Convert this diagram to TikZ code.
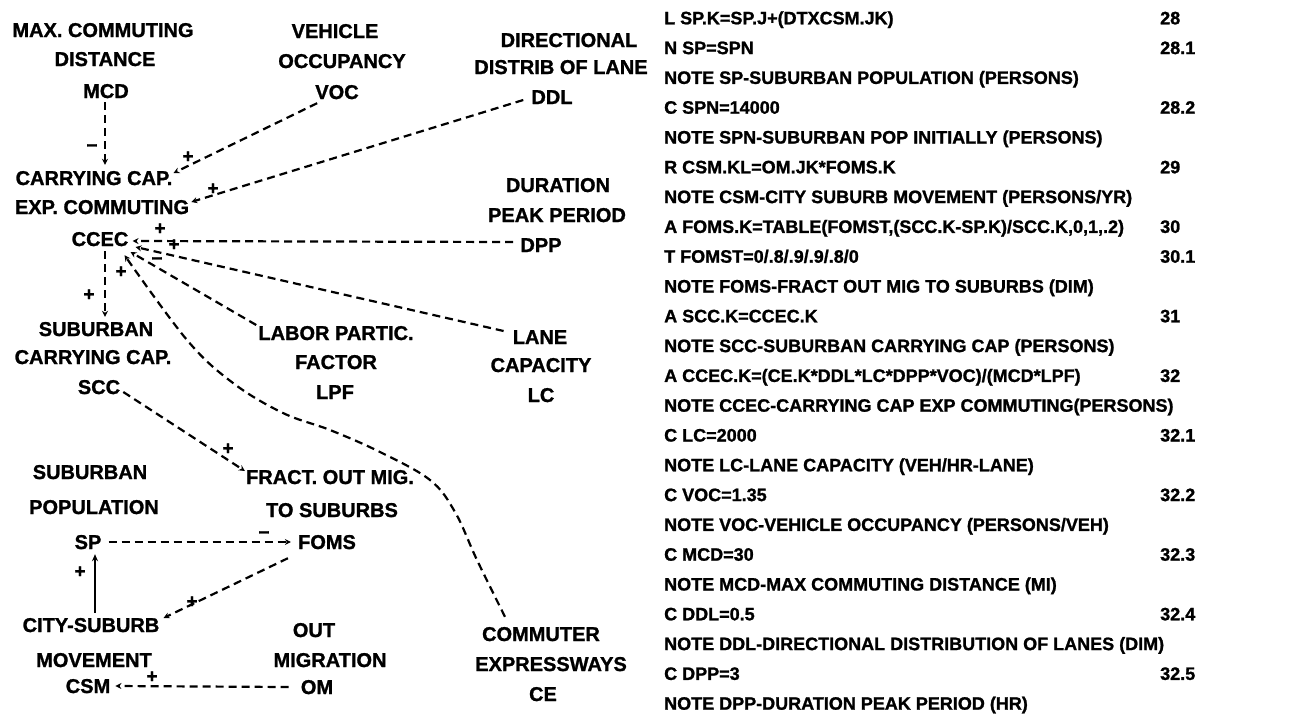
\documentclass[tikz,border=0pt]{standalone}
\usepackage{fontspec}
\setmainfont{Liberation Sans}
\newfontfamily\hand[FakeBold=1.2]{Liberation Sans Bold}
\usetikzlibrary{arrows.meta,calc}
\tikzset{
  lbl/.style={font=\hand\fontsize{20}{20}\selectfont, inner sep=0pt, text height=14pt, text depth=0pt, anchor=center},
  rt/.style={font=\hand\fontsize{18}{18}\selectfont, inner sep=0pt, anchor=base west},
  sg/.style={font=\hand\fontsize{19}{19}\selectfont, inner sep=0pt},
  link/.style={line width=2.2pt, dash pattern=on 8pt off 5pt, -{Stealth[length=6pt,width=6pt]}},
  flow/.style={line width=2.2pt, -{Stealth[length=7pt,width=6pt]}}
}
\begin{document}
\begin{tikzpicture}[x=1pt,y=-1pt]
\fill[white] (0,0) rectangle (1314,713);
\useasboundingbox (0,0) rectangle (1314,713);
% left diagram labels
\node[lbl] (mcdA) at (103,30) {MAX. COMMUTING};
\node[lbl] (mcdB) at (105,59) {DISTANCE};
\node[lbl] (mcd) at (106,91) {MCD};
\node[lbl] (vocA) at (335,31) {VEHICLE};
\node[lbl] (vocB) at (342,61) {OCCUPANCY};
\node[lbl] (voc) at (337,92) {VOC};
\node[lbl] (ddlA) at (569,40) {DIRECTIONAL};
\node[lbl] (ddlB) at (561,67) {DISTRIB OF LANE};
\node[lbl] (ddl) at (552,97) {DDL};
\node[lbl] (ccecA) at (94,178) {CARRYING CAP.};
\node[lbl] (ccecB) at (102,207) {EXP. COMMUTING};
\node[lbl] (ccec) at (100,239) {CCEC};
\node[lbl] (dppA) at (558,185) {DURATION};
\node[lbl] (dppB) at (557,215) {PEAK PERIOD};
\node[lbl] (dpp) at (541,245) {DPP};
\node[lbl] (sccA) at (96,329) {SUBURBAN};
\node[lbl] (sccB) at (93,357) {CARRYING CAP.};
\node[lbl] (scc) at (99,387) {SCC};
\node[lbl] (lpfA) at (336,333) {LABOR PARTIC.};
\node[lbl] (lpfB) at (336,362) {FACTOR};
\node[lbl] (lpf) at (335,392) {LPF};
\node[lbl] (lcA) at (540,337) {LANE};
\node[lbl] (lcB) at (541,365) {CAPACITY};
\node[lbl] (lc) at (541,395) {LC};
\node[lbl] (spA) at (90,472) {SUBURBAN};
\node[lbl] (spB) at (94,507) {POPULATION};
\node[lbl] (sp) at (88,542) {SP};
\node[lbl] (fomsA) at (330,477) {FRACT. OUT MIG.};
\node[lbl] (fomsB) at (332,510) {TO SUBURBS};
\node[lbl] (foms) at (327,542) {FOMS};
\node[lbl] (csmA) at (91,625) {CITY-SUBURB};
\node[lbl] (csmB) at (94,660) {MOVEMENT};
\node[lbl] (csm) at (88,686) {CSM};
\node[lbl] (omA) at (314,630) {OUT};
\node[lbl] (omB) at (330,660) {MIGRATION};
\node[lbl] (om) at (317,687) {OM};
\node[lbl] (ceA) at (541,634) {COMMUTER};
\node[lbl] (ceB) at (551,664) {EXPRESSWAYS};
\node[lbl] (ce) at (543,694) {CE};
% connectors
\draw[link] ($(mcd.south)+(-1,4)$) -- ($(mcd.south |- ccecA.north)+(-1,-6)$);
\draw[link] ($(voc.south west)+(2,4)$) -- ($(ccecA.east)+(1,-5)$);
\draw[link] ($(ddl.west)+(-8,3)$) -- ($(ccecB.east)+(2,-5)$);
\draw[link] ($(dpp.west)+(-7,-3)$) -- ($(ccec.east)+(4,2)$);
\draw[link] ($(lcA.west)+(-9,-6)$) -- ($(ccec.east)+(7,8)$);
\draw[link] ($(lpfA.west)+(-2,-8)$) -- ($(ccec.east)+(2,13)$);
\coordinate (ceS) at ($(ceA.north)+(-36,-10)$);
\coordinate (ceE) at ($(ccec.south east)+(-4,9)$);
\draw[link] plot[smooth,tension=0.6] coordinates {(ceS) (477,560) (455,512) (430,480) (380,452) (330,430) (283,413) (233,383) (187,340) (ceE)};
\draw[link] ($(ccec.south)+(5,5)$) -- ($(sccA.north)+(9,-5)$);
\draw[link] ($(scc.east)+(3,5)$) -- ($(fomsA.west)+(-1,-6)$);
\draw[link] ($(sp.east)+(7,0)$) -- ($(foms.west)+(-7,0)$);
\draw[link] ($(foms.south west)+(-10,9)$) -- ($(csmA.east)+(4,-7)$);
\draw[flow] ($(csmA.north)+(4,-5)$) -- ($(sp.south)+(7,5)$);
\draw[link] ($(om.west)+(-12,0)$) -- ($(csm.east)+(5,0)$);
% polarity signs
\node[sg] (s1) at (92,148) {−};
\node[sg] (s2) at (188,157) {+};
\node[sg] (s3) at (213,189) {+};
\node[sg] (s4) at (160,229) {+};
\node[sg] (s5) at (174,245) {+};
\node[sg] (s6) at (157,261) {−};
\node[sg] (s7) at (121,272) {+};
\node[sg] (s8) at (89,295) {+};
\node[sg] (s9) at (228,449) {+};
\node[sg] (s10) at (264,535) {−};
\node[sg] (s11) at (192,602) {+};
\node[sg] (s12) at (80,572) {+};
\node[sg] (s13) at (152,677) {+};
% equations
\foreach \txt [count=\i] in {
 {L  SP.K=SP.J+(DTXCSM.JK)},
 {N  SP=SPN},
 {NOTE  SP-SUBURBAN POPULATION (PERSONS)},
 {C  SPN=14000},
 {NOTE  SPN-SUBURBAN POP INITIALLY (PERSONS)},
 {R  CSM.KL=OM.JK*FOMS.K},
 {NOTE  CSM-CITY SUBURB MOVEMENT (PERSONS/YR)},
 {A  FOMS.K=TABLE(FOMST,(SCC.K-SP.K)/SCC.K,0,1,.2)},
 {T  FOMST=0/.8/.9/.9/.8/0},
 {NOTE  FOMS-FRACT OUT MIG TO SUBURBS (DIM)},
 {A  SCC.K=CCEC.K},
 {NOTE  SCC-SUBURBAN CARRYING CAP (PERSONS)},
 {A  CCEC.K=(CE.K*DDL*LC*DPP*VOC)/(MCD*LPF)},
 {NOTE  CCEC-CARRYING CAP EXP COMMUTING(PERSONS)},
 {C  LC=2000},
 {NOTE  LC-LANE CAPACITY (VEH/HR-LANE)},
 {C  VOC=1.35},
 {NOTE  VOC-VEHICLE OCCUPANCY (PERSONS/VEH)},
 {C  MCD=30},
 {NOTE  MCD-MAX COMMUTING DISTANCE (MI)},
 {C  DDL=0.5},
 {NOTE  DDL-DIRECTIONAL DISTRIBUTION OF LANES (DIM)},
 {C  DPP=3},
 {NOTE  DPP-DURATION PEAK PERIOD (HR)}}
 \node[rt] (r\i) at (664,{24.3+29.8*(\i-1)}) {\txt};
\foreach \k/\num in {1/28, 2/28.1, 4/28.2, 6/29, 8/30, 9/30.1, 11/31, 13/32, 15/32.1, 17/32.2, 19/32.3, 21/32.4, 23/32.5}
 \node[rt] (n\k) at (1160,{24.3+29.8*(\k-1)}) {\num};
\end{tikzpicture}
\end{document}
